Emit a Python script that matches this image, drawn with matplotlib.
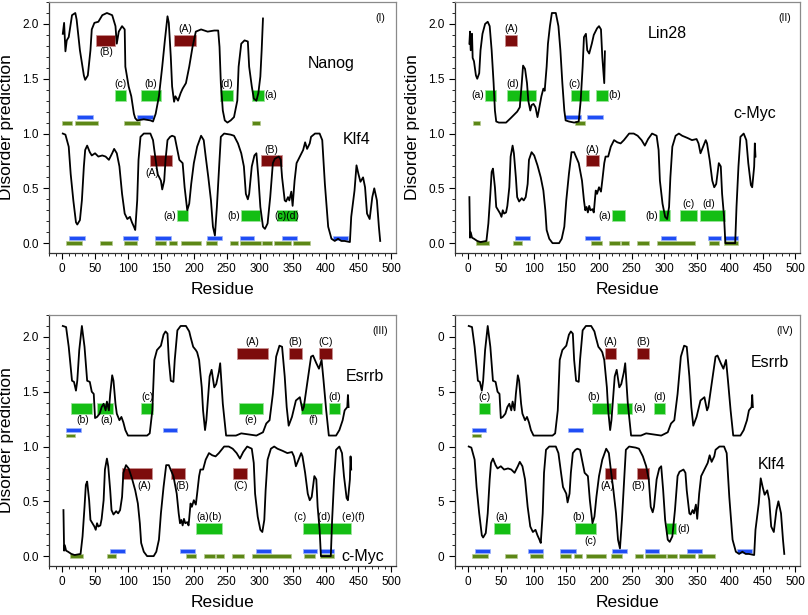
import matplotlib
matplotlib.use("Agg")
import matplotlib.pyplot as plt
from matplotlib.ticker import MultipleLocator, FormatStrFormatter, FixedFormatter

plt.rcParams["font.family"] = ["Liberation Sans", "DejaVu Sans"]

# upper trace in every panel is shifted up by this amount
OFFSET = 1.1

# ── disorder traces: residue number and raw score (0..1) ────────────────────
NANOG_RES = [1, 3, 5, 7, 10, 15, 20, 22, 27, 33, 35, 39, 43, 45, 49, 55, 61, 68, 76, 81,
             83, 86, 91, 95, 96, 101, 105, 109, 111, 114, 124, 134, 138, 142, 147, 152,
             156, 160, 162, 165, 167, 170, 172, 176, 180, 183, 188, 193, 198, 203, 211,
             221, 231, 237, 239, 241, 244, 247, 251, 256, 261, 266, 268, 272, 277, 282,
             284, 288, 291, 295, 298, 301, 303, 305]
NANOG_VAL = [0.81, 0.91, 0.65, 0.75, 0.78, 0.98, 1.0, 0.94, 0.66, 0.43, 0.39, 0.43, 0.66,
             0.85, 0.91, 0.92, 0.98, 1.0, 0.98, 0.88, 0.72, 0.83, 0.88, 0.85, 0.51, 0.33,
             0.24, 0.08, 0.04, 0.02, 0.03, 0.02, 0.01, 0.08, 0.24, 0.51, 0.75, 0.97, 0.91,
             0.60, 0.33, 0.19, 0.24, 0.20, 0.27, 0.31, 0.36, 0.51, 0.69, 0.83, 0.85, 0.83,
             0.84, 0.84, 0.69, 0.36, 0.11, 0.02, 0.0, 0.02, 0.05, 0.20, 0.51, 0.72, 0.75,
             0.74, 0.51, 0.33, 0.22, 0.20, 0.27, 0.42, 0.66, 0.95]

KLF4_RES = [1, 5, 10, 13, 17, 21, 23, 27, 30, 33, 35, 38, 42, 45, 50, 55, 61, 66, 71, 76,
            79, 83, 87, 91, 95, 99, 103, 106, 109, 111, 114, 116, 119, 124, 134, 138, 142,
            145, 150, 152, 155, 157, 160, 164, 167, 171, 174, 178, 183, 186, 190, 193, 196,
            200, 205, 211, 215, 218, 222, 226, 229, 232, 235, 239, 241, 246, 256, 261, 267,
            272, 276, 279, 282, 284, 288, 292, 295, 298, 301, 305, 308, 312, 316, 320, 323,
            329, 332, 334, 338, 340, 343, 345, 348, 350, 353, 356, 361, 366, 369, 372, 376,
            378, 384, 391, 395, 399, 404, 409, 414, 419, 424, 429, 437, 439, 444, 447, 450,
            453, 457, 460, 463, 467, 471, 474, 478, 481, 483]
KLF4_VAL = [1.0, 0.99, 0.88, 0.63, 0.39, 0.19, 0.17, 0.21, 0.39, 0.70, 0.85, 0.89, 0.83,
            0.80, 0.82, 0.79, 0.80, 0.79, 0.76, 0.82, 0.86, 0.82, 0.70, 0.45, 0.27, 0.22,
            0.24, 0.19, 0.15, 0.12, 0.39, 0.76, 0.97, 1.0, 1.0, 0.94, 0.76, 0.63, 0.57,
            0.49, 0.57, 0.76, 0.94, 0.97, 0.98, 0.97, 0.88, 0.76, 0.73, 0.51, 0.30, 0.36,
            0.54, 0.73, 0.88, 0.98, 0.94, 0.79, 0.60, 0.39, 0.15, 0.07, 0.33, 0.76, 0.97,
            1.0, 0.99, 0.98, 0.91, 0.82, 0.70, 0.45, 0.40, 0.45, 0.70, 0.80, 0.82, 0.60,
            0.33, 0.15, 0.13, 0.18, 0.42, 0.73, 0.77, 0.79, 0.76, 0.60, 0.39, 0.38, 0.42,
            0.39, 0.47, 0.34, 0.57, 0.73, 0.79, 0.85, 0.92, 0.86, 0.91, 0.97, 1.0, 1.0,
            0.94, 0.54, 0.15, 0.04, 0.02, 0.04, 0.02, 0.02, 0.01, 0.24, 0.48, 0.71, 0.63,
            0.56, 0.60, 0.51, 0.27, 0.22, 0.42, 0.50, 0.39, 0.15, 0.02]

LIN28_RES = [2, 3, 4, 6, 7, 9, 12, 14, 17, 19, 22, 26, 30, 33, 36, 39, 41, 43, 47, 58, 65,
             70, 75, 79, 82, 84, 87, 90, 92, 95, 97, 100, 103, 106, 108, 112, 115, 117, 120,
             122, 125, 128, 134, 138, 141, 144, 147, 149, 154, 162, 169, 172, 175, 177, 180,
             182, 185, 189, 192, 197, 200, 203, 205, 208, 209]
LIN28_VAL = [0.72, 0.83, 0.66, 0.81, 0.59, 0.56, 0.43, 0.40, 0.45, 0.66, 0.81, 0.90, 0.92,
             0.88, 0.66, 0.36, 0.11, 0.01, 0.0, 0.0, 0.04, 0.07, 0.10, 0.14, 0.36, 0.52,
             0.49, 0.36, 0.20, 0.11, 0.16, 0.17, 0.14, 0.05, 0.11, 0.24, 0.31, 0.29, 0.51,
             0.72, 0.88, 1.0, 1.0, 0.88, 0.66, 0.36, 0.11, 0.02, 0.01, 0.0, 0.01, 0.20, 0.51,
             0.78, 0.81, 0.66, 0.63, 0.72, 0.80, 0.86, 0.88, 0.85, 0.60, 0.36, 0.65]

CMYC_RES = [2, 3, 4, 6, 9, 14, 19, 28, 31, 34, 36, 38, 41, 43, 46, 49, 51, 53, 55, 58, 60,
            63, 65, 68, 70, 73, 75, 78, 82, 85, 88, 91, 93, 97, 101, 106, 111, 115, 118,
            120, 124, 129, 139, 143, 147, 150, 154, 158, 162, 164, 169, 174, 177, 179, 181,
            183, 185, 187, 190, 192, 195, 197, 200, 203, 205, 208, 210, 214, 218, 223, 228,
            233, 238, 246, 253, 259, 265, 270, 275, 281, 288, 291, 293, 297, 301, 304, 307,
            309, 312, 317, 322, 327, 335, 342, 349, 352, 355, 359, 363, 365, 369, 373, 376,
            379, 383, 386, 388, 391, 393, 408, 410, 413, 416, 421, 425, 428, 432, 434, 437,
            438, 439]
CMYC_VAL = [0.42, 0.05, 0.10, 0.05, 0.04, 0.02, 0.01, 0.02, 0.18, 0.45, 0.65, 0.68, 0.51,
            0.33, 0.30, 0.27, 0.24, 0.30, 0.27, 0.28, 0.34, 0.51, 0.79, 0.89, 0.82, 0.60,
            0.42, 0.38, 0.41, 0.39, 0.42, 0.54, 0.76, 0.83, 0.80, 0.71, 0.60, 0.48, 0.30,
            0.12, 0.04, 0.0, 0.0, 0.04, 0.15, 0.39, 0.63, 0.83, 0.83, 0.80, 0.73, 0.57, 0.39,
            0.30, 0.33, 0.28, 0.34, 0.30, 0.31, 0.28, 0.48, 0.45, 0.51, 0.47, 0.57, 0.73,
            0.79, 0.79, 0.88, 0.94, 0.92, 0.91, 0.94, 1.0, 1.0, 0.98, 0.94, 0.89, 0.95, 1.0,
            0.98, 0.85, 0.57, 0.36, 0.24, 0.22, 0.33, 0.60, 0.88, 0.98, 1.0, 0.98, 0.96,
            0.94, 0.95, 0.91, 0.82, 0.88, 0.94, 0.91, 0.76, 0.57, 0.51, 0.54, 0.73, 0.70,
            0.45, 0.24, 0.0, 0.0, 0.33, 0.70, 0.97, 1.0, 0.94, 0.73, 0.53, 0.51, 0.70, 0.91,
            0.79]

ESRRB_RES = [1, 6, 10, 15, 18, 21, 23, 26, 30, 34, 38, 42, 45, 48, 50, 53, 57, 60, 63, 66,
             68, 71, 73, 76, 78, 81, 83, 87, 90, 93, 96, 100, 129, 133, 137, 140, 144, 150,
             154, 157, 160, 162, 165, 169, 171, 175, 180, 188, 193, 195, 199, 203, 205, 208,
             212, 214, 217, 219, 222, 224, 227, 231, 234, 238, 240, 244, 249, 264, 272, 295,
             305, 310, 315, 320, 325, 330, 334, 338, 341, 344, 349, 355, 361, 365, 367, 372,
             378, 381, 386, 390, 394, 397, 401, 405, 416, 421, 426, 429, 433, 434, 435]
ESRRB_VAL = [1.0, 0.99, 0.81, 0.50, 0.49, 0.41, 0.50, 0.78, 1.0, 0.81, 0.50, 0.49, 0.40,
             0.38, 0.16, 0.17, 0.20, 0.26, 0.29, 0.23, 0.31, 0.23, 0.38, 0.55, 0.50, 0.29,
             0.20, 0.14, 0.17, 0.12, 0.05, 0.0, 0.0, 0.02, 0.23, 0.69, 0.78, 0.82, 0.92,
             0.95, 0.93, 0.69, 0.50, 0.49, 0.69, 0.96, 1.0, 1.0, 0.95, 0.90, 0.81, 0.78,
             0.76, 0.69, 0.44, 0.23, 0.05, 0.14, 0.38, 0.54, 0.60, 0.44, 0.47, 0.58, 0.66,
             0.29, 0.0, 0.0, 0.02, 0.0, 0.03, 0.11, 0.14, 0.38, 0.72, 0.82, 0.81, 0.54, 0.26,
             0.09, 0.17, 0.32, 0.35, 0.23, 0.26, 0.47, 0.72, 0.73, 0.66, 0.61, 0.69, 0.50,
             0.23, 0.0, 0.0, 0.05, 0.14, 0.23, 0.26, 0.37, 0.26]

# ── short segments drawn under each trace (residue start, end) ──────────────
NANOG_BLUE = [(22, 47), (114, 138)]
NANOG_OLIVE = [(0, 15), (19, 55), (94, 118), (288, 300)]
KLF4_BLUE = [(11, 34), (92, 115), (141, 165), (220, 243), (270, 292), (334, 357), (411, 434)]
KLF4_OLIVE = [(6, 30), (57, 75), (94, 114), (141, 157), (162, 174), (180, 211), (218, 235),
              (255, 267), (270, 302), (304, 319), (322, 347), (351, 377)]
LIN28_BLUE = [(148, 172), (182, 206)]
LIN28_OLIVE = [(7, 18), (163, 178)]
CMYC_BLUE = [(72, 95), (179, 202), (294, 317), (366, 387), (391, 413)]
CMYC_OLIVE = [(12, 32), (68, 82), (188, 204), (215, 232), (234, 246), (258, 276),
              (289, 347), (368, 384), (391, 413)]
ESRRB_BLUE = [(6, 28), (153, 175)]
ESRRB_OLIVE = [(6, 19)]

# ── labelled regions: (start, end, label, label side, label shift) ──────────
P1_TOP_RED = [(52, 81, "(B)", "below", 0), (170, 203, "(A)", "above", 0)]
P1_TOP_GREEN = [(80, 97, "(c)", "above", 0), (120, 150, "(b)", "above", 0),
                (240, 260, "(d)", "above", 0), (288, 306, "(a)", "right", 0)]
P1_BOT_RED = [(134, 167, "(A)", "below", -13), (302, 334, "(B)", "above", 0)]
P1_BOT_GREEN = [(174, 191, "(a)", "left", 0), (272, 300, "(b)", "left", 0),
                (327, 357, "(c)(d)", "on", 0)]

P2_TOP_RED = [(56, 75, "(A)", "above", 0)]
P2_TOP_GREEN = [(26, 43, "(a)", "left", 0), (59, 103, "(d)", "above", -13),
                (157, 185, "(c)", "above", -9), (196, 213, "(b)", "right", 0)]
P2_BOT_RED = [(180, 200, "(A)", "above", 0)]
P2_BOT_GREEN = [(220, 239, "(a)", "left", 0), (291, 308, "(b)", "left", 0),
                (324, 349, "(c)", "above", 0), (354, 392, "(d)", "above", -5)]

P3_TOP_RED = [(265, 312, "(A)", "above", 0), (344, 365, "(B)", "above", 0),
              (390, 410, "(C)", "above", 0)]
P3_TOP_GREEN = [(13, 46, "(b)", "below", 2), (53, 77, "(a)", "below", 2),
                (120, 138, "(c)", "above", 0), (268, 305, "(e)", "below", 0),
                (363, 395, "(f)", "below", 2), (405, 422, "(d)", "above", 0)]
P3_BOT_RED = [(91, 136, "(A)", "below", 11), (165, 187, "(B)", "below", 7),
              (260, 281, "(C)", "below", 0)]
P3_BOT_GREEN = [(204, 243, "(a)(b)", "above", 0),
                (366, 438, "(c)    (d)    (e)(f)", "above", 4)]

P4_TOP_RED = [(209, 226, "(A)", "above", 0), (258, 276, "(B)", "above", 0)]
P4_TOP_GREEN = [(17, 33, "(c)", "above", 0), (189, 219, "(b)", "above", -12),
                (228, 251, "(a)", "right", 0), (284, 301, "(d)", "above", 0)]
P4_BOT_RED = [(209, 226, "(A)", "below", -5), (258, 276, "(B)", "below", -7)]
P4_BOT_GREEN = [(40, 64, "(a)", "above", 0), (164, 196, "(b)", "above", -11),
                (302, 318, "(d)", "right", 0)]

# ── styling ──────────────────────────────────────────────────────────────────
RED, RED_EDGE = "#7d0c0c", "#c89090"
GREEN, GREEN_EDGE = "#14be14", "#9be39b"
BLUE, BLUE_EDGE = "#1f4df5", "#9db2fb"
OLIVE, OLIVE_EDGE = "#5c8716", "#b7cb93"
RED_Y, GREEN_Y, BLUE_Y, OLIVE_Y = 0.75, 0.25, 0.05, 0.0
BIG_H, SMALL_H = 0.10, 0.035
LAB_FS = 7.5


def spans(ax, segs, y, color, edge):
    for s, e in segs:
        ax.barh(y, e - s, left=s, height=SMALL_H, color=color, edgecolor=edge,
                linewidth=0.5, zorder=2)


def regions(ax, items, y, color, edge):
    for s, e, lab, side, dx in items:
        ax.barh(y, e - s, left=s, height=BIG_H, color=color, edgecolor=edge,
                linewidth=0.6, zorder=2)
        cx = (s + e) / 2 + dx
        if side == "above":
            ax.text(cx, y + BIG_H / 2 + 0.008, lab, ha="center", va="bottom", fontsize=LAB_FS)
        elif side == "below":
            ax.text(cx, y - BIG_H / 2 - 0.012, lab, ha="center", va="top", fontsize=LAB_FS)
        elif side == "left":
            ax.text(s - 1, y, lab, ha="right", va="center", fontsize=LAB_FS)
        elif side == "right":
            ax.text(e + 1, y, lab, ha="left", va="center", fontsize=LAB_FS)
        else:
            ax.text(cx, y, lab, ha="center", va="center", fontsize=LAB_FS, zorder=5)


def panel(ax, top, bot, tag, ylabel=True, short_ticks=False):
    for (res, val, blue, olive, red, green), off in ((top, OFFSET), (bot, 0.0)):
        spans(ax, olive, OLIVE_Y + off, OLIVE, OLIVE_EDGE)
        spans(ax, blue, BLUE_Y + off, BLUE, BLUE_EDGE)
        regions(ax, red, RED_Y + off, RED, RED_EDGE)
        regions(ax, green, GREEN_Y + off, GREEN, GREEN_EDGE)
        ax.plot(res, [v + off for v in val], color="black", lw=1.3, zorder=4)

    ax.set_xlim(-20, 507)
    ax.set_ylim(-0.09, 2.2)
    ax.xaxis.set_major_locator(MultipleLocator(50))
    ax.xaxis.set_minor_locator(MultipleLocator(10))
    ax.yaxis.set_major_locator(MultipleLocator(0.5))
    ax.yaxis.set_minor_locator(MultipleLocator(0.1))
    if short_ticks:
        ax.yaxis.set_major_formatter(FixedFormatter(["", "0", "5", "0", "5", "0"]))
    else:
        ax.yaxis.set_major_formatter(FormatStrFormatter("%.1f"))
    ax.tick_params(which="major", direction="out", length=4, width=0.8, labelsize=8.5)
    ax.tick_params(which="minor", direction="out", length=2, width=0.6)
    ax.tick_params(axis="x", pad=3)
    for side in ("top", "right"):
        ax.spines[side].set_color("#8a8a8a")
    for side in ("left", "bottom"):
        ax.spines[side].set_color("#333333")
    for sp in ax.spines.values():
        sp.set_linewidth(0.9)
    ax.set_xlabel("Residue", fontsize=12.5, labelpad=5)
    if ylabel:
        ax.set_ylabel("Disorder prediction", fontsize=12.5, labelpad=6)
    ax.text(0.955, 0.955, tag, transform=ax.transAxes, ha="center", va="top", fontsize=7.5)


fig = plt.figure(figsize=(8.08, 6.15), dpi=100)
ax1 = fig.add_axes([0.0606, 0.5886, 0.4295, 0.4081])
ax2 = fig.add_axes([0.5631, 0.5886, 0.4270, 0.4081])
ax3 = fig.add_axes([0.0606, 0.0797, 0.4295, 0.4081])
ax4 = fig.add_axes([0.5631, 0.0797, 0.4270, 0.4081])

panel(ax1, (NANOG_RES, NANOG_VAL, NANOG_BLUE, NANOG_OLIVE, P1_TOP_RED, P1_TOP_GREEN),
      (KLF4_RES, KLF4_VAL, KLF4_BLUE, KLF4_OLIVE, P1_BOT_RED, P1_BOT_GREEN), "(I)")
ax1.text(409, 1.64, "Nanog", ha="center", va="center", fontsize=11.5)
ax1.text(447, 0.95, "Klf4", ha="center", va="center", fontsize=11.5)

panel(ax2, (LIN28_RES, LIN28_VAL, LIN28_BLUE, LIN28_OLIVE, P2_TOP_RED, P2_TOP_GREEN),
      (CMYC_RES, CMYC_VAL, CMYC_BLUE, CMYC_OLIVE, P2_BOT_RED, P2_BOT_GREEN), "(II)")
ax2.text(304, 1.91, "Lin28", ha="center", va="center", fontsize=11.5)
ax2.text(438, 1.18, "c-Myc", ha="center", va="center", fontsize=11.5)

panel(ax3, (ESRRB_RES, ESRRB_VAL, ESRRB_BLUE, ESRRB_OLIVE, P3_TOP_RED, P3_TOP_GREEN),
      (CMYC_RES, CMYC_VAL, CMYC_BLUE, CMYC_OLIVE, P3_BOT_RED, P3_BOT_GREEN), "(III)")
ax3.text(460, 1.64, "Esrrb", ha="center", va="center", fontsize=11.5)
ax3.text(456, 0.0, "c-Myc", ha="center", va="center", fontsize=11.5)

panel(ax4, (ESRRB_RES, ESRRB_VAL, ESRRB_BLUE, ESRRB_OLIVE, P4_TOP_RED, P4_TOP_GREEN),
      (KLF4_RES, KLF4_VAL, KLF4_BLUE, KLF4_OLIVE, P4_BOT_RED, P4_BOT_GREEN), "(IV)",
      ylabel=False, short_ticks=True)
ax4.text(187, GREEN_Y - BIG_H / 2 - 0.012, "(c)", ha="center", va="top", fontsize=LAB_FS)
ax4.text(461, 1.77, "Esrrb", ha="center", va="center", fontsize=11.5)
ax4.text(464, 0.84, "Klf4", ha="center", va="center", fontsize=11.5)

fig.savefig("out.png", dpi=100)
